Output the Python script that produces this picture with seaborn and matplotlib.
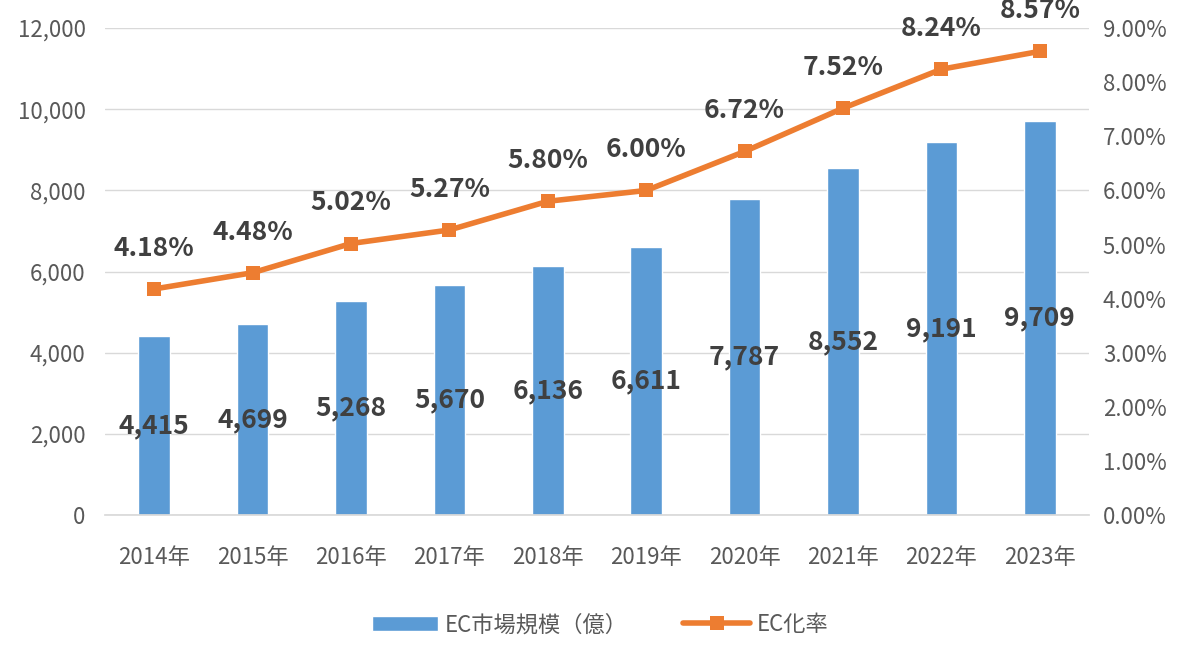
import numpy as np
import pandas as pd
import matplotlib
matplotlib.use("Agg")
import matplotlib.pyplot as plt
import seaborn as sns
from matplotlib.ticker import FuncFormatter

years = ["2014年", "2015年", "2016年", "2017年", "2018年", "2019年", "2020年", "2021年", "2022年", "2023年"]
market = [4415, 4699, 5268, 5670, 6136, 6611, 7787, 8552, 9191, 9709]
rate = [4.18, 4.48, 5.02, 5.27, 5.80, 6.00, 6.72, 7.52, 8.24, 8.57]

sns.set_theme(style="white")
plt.rcParams["font.family"] = ["Noto Sans CJK JP", "DejaVu Sans"]

bar_color = "#5B9BD5"
line_color = "#ED7D31"
tick_color = "#595959"
label_color = "#404040"

df = pd.DataFrame({"year": years, "market": market, "rate": rate})

fig = plt.figure(figsize=(12, 6.53), dpi=100)
ax = fig.add_axes([0.0875, 0.211, 0.82, 0.746])
sns.barplot(data=df, x="year", y="market", color=bar_color, width=0.32,
            saturation=1, ax=ax, label="EC市場規模（億）")
ax.set_ylim(0, 12000)
ax.set_yticks(range(0, 12001, 2000))
ax.yaxis.set_major_formatter(FuncFormatter(lambda v, p: f"{int(v):,}"))
ax.grid(axis="y", color="#D9D9D9", linewidth=1)
ax.set_axisbelow(True)
ax.set_xlabel("")
ax.set_ylabel("")
for s in ax.spines.values():
    s.set_visible(False)
ax.spines["bottom"].set_visible(True)
ax.spines["bottom"].set_color("#D9D9D9")
ax.tick_params(axis="both", colors=tick_color, labelsize=16, length=0)
ax.tick_params(axis="x", pad=22)
ax.tick_params(axis="y", pad=14)

for i, v in enumerate(market):
    ax.text(i, v / 2, f"{v:,}", ha="center", va="center", fontsize=19,
            fontweight="bold", color=label_color)

ax2 = ax.twinx()
x = np.arange(len(years))
sns.lineplot(x=x, y=rate, ax=ax2, color=line_color, linewidth=4, marker="s",
             markersize=10, markeredgewidth=0, label="EC化率")
ax2.set_ylim(0, 9)
ax2.set_yticks(np.arange(0, 9.01, 1))
ax2.yaxis.set_major_formatter(FuncFormatter(lambda v, p: f"{v:.2f}%"))
ax2.tick_params(axis="y", colors=tick_color, labelsize=16, length=0, pad=10)
for s in ax2.spines.values():
    s.set_visible(False)
ax2.set_xlim(-0.5, len(years) - 0.5)
ax.set_xlim(-0.5, len(years) - 0.5)

for i, r in enumerate(rate):
    ax2.text(i, r + 0.5, f"{r:.2f}%", ha="center", va="bottom", fontsize=19,
             fontweight="bold", color=label_color)

h1, l1 = ax.get_legend_handles_labels()
h2, l2 = ax2.get_legend_handles_labels()
if ax.get_legend():
    ax.get_legend().remove()
ax2.get_legend().remove()
fig.legend(h1 + h2, l1 + l2, loc="lower center", bbox_to_anchor=(0.5, -0.005),
           ncol=2, frameon=False, fontsize=16, labelcolor=tick_color,
           handlelength=3, handletextpad=0.3, columnspacing=2.5)

fig.savefig("out.png", dpi=100)
